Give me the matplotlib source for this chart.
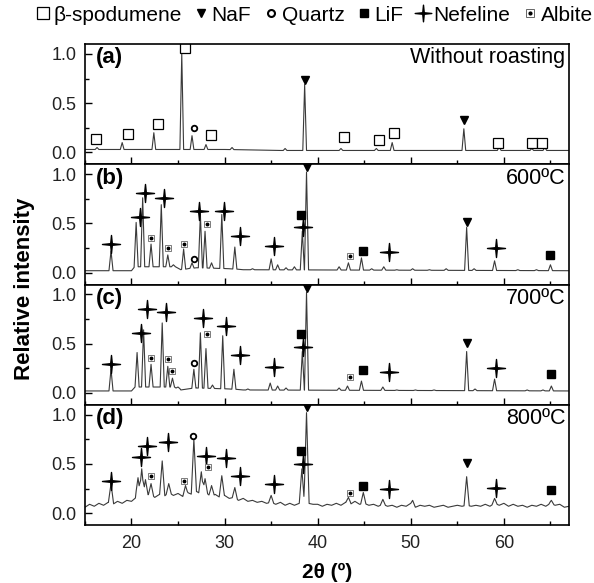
import numpy as np
import matplotlib.pyplot as plt
from matplotlib.path import Path
from matplotlib.lines import Line2D

plt.rcParams['font.family'] = ['Liberation Sans', 'DejaVu Sans']

# ---- (a) without roasting ----
bg_a_x = [15, 20, 30, 36, 67]
bg_a_y = [0.03, 0.03, 0.03, 0.02, 0.02]
pk_a_x = [16.3, 19.0, 22.4, 25.4, 26.5, 28.0, 30.8, 36.5, 38.6, 42.5, 46.3, 48.0, 55.7, 59.5, 63.0, 64.4]
pk_a_y = [0.05, 0.10, 0.20, 1.00, 0.17, 0.08, 0.05, 0.04, 0.69, 0.04, 0.04, 0.10, 0.24, 0.06, 0.04, 0.05]

# ---- (b) 600 C ----
bg_b_x = [15, 20, 20.6, 24.5, 25.3, 27.0, 30.5, 32, 67]
bg_b_y = [0.02, 0.02, 0.06, 0.06, 0.03, 0.05, 0.04, 0.03, 0.02]
pk_b_x = [17.8, 20.5, 21.2, 22.1, 23.2, 23.9, 24.5, 25.6, 26.5, 27.4, 27.9, 28.6, 29.7, 31.1, 33.0,
          35.0, 35.7, 36.6, 37.5, 38.35, 38.8, 42.3, 43.3, 44.7, 45.8, 47.1, 48.5, 50.2, 52.0, 53.8,
          56.0, 56.8, 59.0, 61.5, 63.5, 65.0]
pk_b_y = [0.22, 0.51, 0.76, 0.29, 0.69, 0.18, 0.08, 0.24, 0.10, 0.59, 0.42, 0.10, 0.59, 0.26, 0.04,
          0.14, 0.08, 0.05, 0.06, 0.42, 1.02, 0.06, 0.10, 0.15, 0.04, 0.06, 0.03, 0.04, 0.03, 0.04,
          0.46, 0.04, 0.12, 0.03, 0.03, 0.08]

# ---- (c) 700 C ----
bg_c_x = [15, 20, 20.6, 24.5, 25.3, 27.0, 30.5, 32, 67]
bg_c_y = [0.02, 0.02, 0.06, 0.06, 0.03, 0.05, 0.04, 0.03, 0.02]
pk_c_x = [17.8, 20.6, 21.3, 22.1, 23.3, 23.9, 24.4, 25.0, 26.7, 27.4, 28.0, 28.7, 29.8, 31.0, 32.5,
          34.9, 35.7, 36.6, 38.35, 38.8, 42.3, 43.2, 44.7, 47.0, 48.5, 50.5, 52.5, 56.0, 56.9, 59.0,
          62.5, 64.2, 65.1]
pk_c_y = [0.24, 0.41, 0.64, 0.29, 0.71, 0.27, 0.15, 0.06, 0.24, 0.61, 0.45, 0.08, 0.58, 0.24, 0.04,
          0.10, 0.07, 0.05, 0.42, 1.02, 0.05, 0.07, 0.12, 0.06, 0.03, 0.03, 0.03, 0.42, 0.04, 0.14,
          0.03, 0.03, 0.07]

# ---- (d) 800 C, noisy background every 0.5 deg ----
bg_d_x = np.arange(15.0, 67.01, 0.5)
bg_d_y = [0.06, 0.09, 0.07, 0.10, 0.08, 0.11, 0.09, 0.12, 0.10, 0.13,   # 15.0 - 19.5
          0.12, 0.16, 0.18, 0.17, 0.20, 0.16, 0.19, 0.17, 0.21, 0.18,   # 20.0 - 24.5
          0.20, 0.17, 0.21, 0.19, 0.22, 0.19, 0.21, 0.17, 0.19, 0.16,   # 25.0 - 29.5
          0.18, 0.15, 0.16, 0.13, 0.15, 0.12, 0.13, 0.11, 0.12, 0.10,   # 30.0 - 34.5
          0.11, 0.09, 0.11, 0.08, 0.10, 0.08, 0.10, 0.09, 0.10, 0.09,   # 35.0 - 39.5
          0.09, 0.07, 0.09, 0.08, 0.10, 0.08, 0.11, 0.09, 0.12, 0.09,   # 40.0 - 44.5
          0.10, 0.08, 0.09, 0.07, 0.09, 0.07, 0.08, 0.06, 0.08, 0.07,   # 45.0 - 49.5
          0.10, 0.06, 0.08, 0.07, 0.08, 0.06, 0.07, 0.08, 0.06, 0.07,   # 50.0 - 54.5
          0.08, 0.07, 0.08, 0.07, 0.08, 0.07, 0.09, 0.07, 0.10, 0.08,   # 55.0 - 59.5
          0.10, 0.07, 0.09, 0.07, 0.08, 0.06, 0.08, 0.07, 0.09, 0.07,   # 60.0 - 64.5
          0.10, 0.08, 0.09, 0.06, 0.07]                                 # 65.0 - 67.0
pk_d_x = [17.8, 20.7, 21.1, 21.5, 22.1, 23.3, 24.0, 25.8, 26.7, 27.5, 27.9, 28.6, 29.7, 31.1, 35.0,
          38.3, 38.8, 43.3, 44.9, 47.0, 50.2, 56.0, 59.0, 65.1]
pk_d_y = [0.30, 0.36, 0.45, 0.34, 0.30, 0.53, 0.30, 0.28, 0.75, 0.42, 0.35, 0.28, 0.38, 0.26, 0.18,
          0.45, 1.02, 0.16, 0.21, 0.14, 0.13, 0.37, 0.15, 0.13]

# ---- phase markers (2theta, intensity) ----
spod_a = [(16.2, 0.14), (19.6, 0.19), (22.8, 0.29), (25.8, 1.06), (28.5, 0.18), (42.8, 0.16),
          (46.6, 0.13), (48.2, 0.20), (59.4, 0.10), (63.0, 0.10), (64.1, 0.10)]
naf = {
    "a": [(38.6, 0.73), (55.7, 0.33)],
    "b": [(38.8, 1.07), (56.0, 0.51)],
    "c": [(38.8, 1.06), (56.0, 0.51)],
    "d": [(38.8, 1.08), (56.0, 0.51)],
}
quartz = {
    "a": [(26.7, 0.25)],
    "b": [(26.7, 0.14)],
    "c": [(26.7, 0.30)],
    "d": [(26.6, 0.78)],
}
lif = {
    "b": [(38.2, 0.59), (44.9, 0.22), (65.0, 0.18)],
    "c": [(38.2, 0.60), (44.9, 0.23), (65.1, 0.19)],
    "d": [(38.2, 0.63), (44.9, 0.28), (65.1, 0.23)],
}
nefeline = {
    "b": [(17.8, 0.29), (20.9, 0.56), (21.4, 0.81), (23.5, 0.76), (27.3, 0.63), (29.9, 0.63),
          (31.7, 0.37), (35.3, 0.27), (38.4, 0.46), (47.7, 0.21), (59.2, 0.25)],
    "c": [(17.8, 0.29), (21.0, 0.61), (21.7, 0.85), (23.7, 0.82), (27.7, 0.76), (30.2, 0.68),
          (31.7, 0.38), (35.3, 0.26), (38.4, 0.47), (47.7, 0.21), (59.2, 0.25)],
    "d": [(17.8, 0.33), (21.0, 0.57), (21.7, 0.68), (23.9, 0.72), (28.0, 0.58), (30.2, 0.56),
          (31.7, 0.38), (35.3, 0.30), (38.4, 0.50), (47.7, 0.25), (59.2, 0.26)],
}
albite = {
    "b": [(22.1, 0.35), (23.9, 0.25), (25.6, 0.29), (28.1, 0.49), (43.5, 0.17)],
    "c": [(22.1, 0.35), (23.9, 0.34), (24.4, 0.22), (28.1, 0.60), (43.5, 0.16)],
    "d": [(22.1, 0.38), (25.6, 0.33), (28.2, 0.47), (43.5, 0.20)],
}

panels = [
    ("a", "(a)", "Without roasting", bg_a_x, bg_a_y, pk_a_x, pk_a_y, 0.20),
    ("b", "(b)", "600ºC", bg_b_x, bg_b_y, pk_b_x, pk_b_y, 0.22),
    ("c", "(c)", "700ºC", bg_c_x, bg_c_y, pk_c_x, pk_c_y, 0.22),
    ("d", "(d)", "800ºC", bg_d_x, bg_d_y, pk_d_x, pk_d_y, 0.28),
]

# four-pointed star used for nefeline
star = Path([(0, 1), (0.09, 0.09), (1, 0), (0.09, -0.09), (0, -1), (-0.09, -0.09), (-1, 0), (-0.09, 0.09), (0, 1)],
            [Path.MOVETO] + [Path.LINETO] * 7 + [Path.CLOSEPOLY])


def pattern(bg_x, bg_y, pk_x, pk_y, w):
    # vertices: background knots plus peak apex and feet; peaks are triangles on the background
    xs = list(bg_x)
    for p in pk_x:
        xs += [p - w, p, p + w]
    xs = np.unique(np.array(xs))
    ys = np.interp(xs, bg_x, bg_y)
    for p, h in zip(pk_x, pk_y):
        base = np.interp(p, bg_x, bg_y)
        frac = 1 - np.abs(xs - p) / w
        tri = np.where(frac > 0, base + (h - base) * frac, -np.inf)
        ys = np.maximum(ys, tri)
    return xs, ys


def put(ax, pts, **kw):
    if not pts:
        return
    x, y = zip(*pts)
    ax.plot(x, y, ls="none", color="k", **kw)


def put_albite(ax, pts):
    put(ax, pts, marker="s", ms=5, mfc="white", mec="0.4", mew=0.6)
    put(ax, pts, marker="o", ms=1.8)


fig = plt.figure(figsize=(5.94, 5.83), dpi=100)
gs = fig.add_gridspec(4, 1, left=0.143, right=0.958, top=0.9245, bottom=0.0995, hspace=0)

for i, (key, tag, cond, bx, by, px, py, w) in enumerate(panels):
    ax = fig.add_subplot(gs[i])
    xs, ys = pattern(bx, by, px, py, w)
    ax.plot(xs, ys, color="#3a3a3a", lw=0.8)

    if key == "a":
        put(ax, spod_a, marker="s", ms=6.5, mfc="white", mec="k", mew=0.9)
    put(ax, naf.get(key, []), marker="v", ms=5.5)
    put(ax, quartz.get(key, []), marker="o", ms=4, mfc="white", mec="k", mew=1.3)
    put(ax, lif.get(key, []), marker="s", ms=6)
    put(ax, nefeline.get(key, []), marker=star, ms=13)
    put_albite(ax, albite.get(key, []))

    ax.set_xlim(15, 67)
    ax.set_ylim(-0.12, 1.1)
    ax.set_yticks([0.0, 0.5, 1.0])
    ax.set_yticks([0.25, 0.75], minor=True)
    ax.set_xticks([20, 30, 40, 50, 60])
    ax.set_xticks([15, 25, 35, 45, 55, 65], minor=True)
    ax.tick_params(which="both", direction="in", top=False, right=False, labelsize=13, width=1,
                   labelcolor="#222222")
    ax.tick_params(which="major", length=5)
    ax.tick_params(which="minor", length=3)
    ax.tick_params(axis="y", pad=6)
    ax.tick_params(axis="x", pad=7)
    if i < 3:
        ax.tick_params(axis="x", labelbottom=False)
    for s in ax.spines.values():
        s.set_linewidth(1.2)

    ax.text(0.022, 0.885, tag, transform=ax.transAxes, fontsize=16, fontweight="bold",
            ha="left", va="center")
    ax.text(0.992, 0.885, cond, transform=ax.transAxes, fontsize=15.5, ha="right", va="center")

fig.text(0.042, 0.504, "Relative intensity", rotation=90, fontsize=16, fontweight="bold",
         ha="center", va="center")
fig.text(0.55, 0.018, "2θ (º)", fontsize=15, fontweight="bold", ha="center", va="center")

# legend across the top
h_spod = Line2D([], [], ls="none", marker="s", ms=8, mfc="white", mec="k", mew=0.9)
h_naf = Line2D([], [], ls="none", marker="v", ms=6, color="k")
h_qz = Line2D([], [], ls="none", marker="o", ms=5, mfc="white", mec="k", mew=1.5)
h_lif = Line2D([], [], ls="none", marker="s", ms=6, color="k")
h_nef = Line2D([], [], ls="none", marker=star, ms=12, color="k")
h_alb = (Line2D([], [], ls="none", marker="s", ms=6, mfc="white", mec="0.4", mew=0.7),
         Line2D([], [], ls="none", marker="o", ms=2, color="k"))
fig.legend([h_spod, h_naf, h_qz, h_lif, h_nef, h_alb],
           ["β-spodumene", "NaF", "Quartz", "LiF", "Nefeline", "Albite"],
           loc="center", bbox_to_anchor=(0.528, 0.974), ncol=6, frameon=False, fontsize=15,
           handlelength=0.8, handletextpad=0.1, columnspacing=0.55, borderpad=0, borderaxespad=0)

fig.savefig("out.png", dpi=100)
